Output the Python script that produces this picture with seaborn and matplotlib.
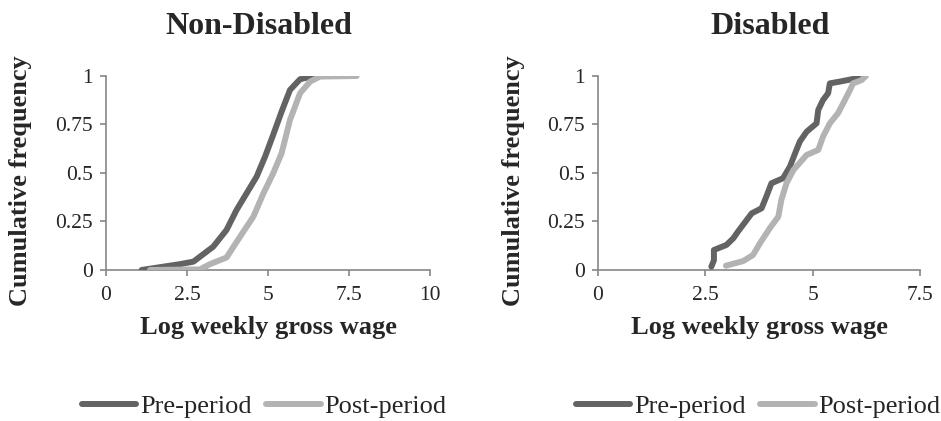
import pandas as pd
import seaborn as sns
import matplotlib.pyplot as plt
from matplotlib.ticker import FuncFormatter

nd_pre_x = [1.10, 2.28, 2.70, 3.31, 3.72, 4.03, 4.34, 4.65, 4.91, 5.16, 5.42, 5.68, 5.99, 6.40]
nd_pre_y = [0.0, 0.03, 0.043, 0.12, 0.206, 0.309, 0.395, 0.481, 0.584, 0.696, 0.816, 0.928, 0.983, 1.0]
nd_post_x = [1.36, 2.90, 3.21, 3.72, 4.14, 4.55, 4.86, 5.16, 5.42, 5.68, 5.99, 6.30, 6.60, 7.74]
nd_post_y = [0.0, 0.003, 0.03, 0.064, 0.172, 0.275, 0.395, 0.498, 0.601, 0.773, 0.911, 0.971, 0.997, 1.0]

# Disabled
d_pre_x = [2.64, 2.70, 2.70, 2.99, 3.15, 3.26, 3.58, 3.81, 3.92, 4.04, 4.31, 4.47, 4.59, 4.70,
           4.86, 5.09, 5.13, 5.24, 5.36, 5.40, 5.63, 6.02, 6.22]
d_pre_y = [0.017, 0.05, 0.103, 0.129, 0.163, 0.198, 0.292, 0.318, 0.378, 0.447, 0.473, 0.533,
           0.601, 0.662, 0.713, 0.756, 0.825, 0.876, 0.911, 0.962, 0.971, 0.988, 1.0]
d_post_x = [2.98, 3.38, 3.61, 3.77, 4.00, 4.20, 4.27, 4.39, 4.55, 4.86, 5.13, 5.24, 5.40, 5.59,
            5.71, 5.87, 5.94, 6.14, 6.24]
d_post_y = [0.022, 0.046, 0.077, 0.137, 0.215, 0.275, 0.361, 0.447, 0.515, 0.593, 0.619, 0.687,
            0.756, 0.808, 0.859, 0.928, 0.962, 0.979, 1.0]

nd_xticks = [0, 2.5, 5, 7.5, 10]
d_xticks = [0, 2.5, 5, 7.5]
yticks = [0, 0.25, 0.5, 0.75, 1]

sns.set_style('white')
plt.rcParams['font.family'] = ['Liberation Serif', 'DejaVu Serif']

dark = '#636363'
light = '#b3b3b3'
axcol = '#868686'

fig = plt.figure(figsize=(9.41, 4.21), dpi=100)
ax1 = fig.add_axes([0.1126, 0.3587, 0.3443, 0.4608])
ax2 = fig.add_axes([0.6355, 0.3587, 0.3422, 0.4608])

# (axes, title, data..., ticks, title x, legend x)
panels = [
    (ax1, 'Non-Disabled', nd_pre_x, nd_pre_y, nd_post_x, nd_post_y, nd_xticks, 0.275, 0.281),
    (ax2, 'Disabled', d_pre_x, d_pre_y, d_post_x, d_post_y, d_xticks, 0.818, 0.806),
]

fmt = FuncFormatter(lambda v, p: f'{v:g}')

for ax, title, px, py, qx, qy, xt, tx, lx in panels:
    sns.lineplot(x=px, y=py, ax=ax, color=dark, lw=4.3, estimator=None, sort=False,
                 label='Pre-period', solid_capstyle='round', solid_joinstyle='round')
    sns.lineplot(x=qx, y=qy, ax=ax, color=light, lw=4.3, estimator=None, sort=False,
                 label='Post-period', solid_capstyle='round', solid_joinstyle='round')
    ax.set_xlim(xt[0], xt[-1])
    ax.set_ylim(0, 1)
    ax.set_xticks(xt)
    ax.set_yticks(yticks)
    ax.xaxis.set_major_formatter(fmt)
    ax.yaxis.set_major_formatter(fmt)
    for s in ['top', 'right']:
        ax.spines[s].set_visible(False)
    for s in ['left', 'bottom']:
        ax.spines[s].set_color(axcol)
        ax.spines[s].set_linewidth(1.2)
        ax.spines[s].set_zorder(0)
    ax.tick_params(axis='both', which='major', length=4.3, width=1.2, color=axcol,
                   direction='out', labelsize=15.5, left=True, bottom=True)
    ax.tick_params(axis='x', pad=7)
    ax.tick_params(axis='y', pad=5)
    ax.set_xlabel('Log weekly gross wage', fontsize=19, fontweight='bold', labelpad=8)
    ax.set_ylabel('Cumulative frequency', fontsize=19, fontweight='bold')
    ax.yaxis.set_label_coords(-0.228, 0.46)
    ax.get_legend().remove()
    fig.text(tx, 0.938, title, ha='center', va='center', fontsize=23, fontweight='bold')
    h, l = ax.get_legend_handles_labels()
    fig.legend(h, l, loc='center', bbox_to_anchor=(lx, 0.035), ncol=2, frameon=False,
               fontsize=19, handlelength=2.05, handletextpad=0.15, columnspacing=0.55,
               borderpad=0, borderaxespad=0)

fig.savefig('out.png', dpi=100)
